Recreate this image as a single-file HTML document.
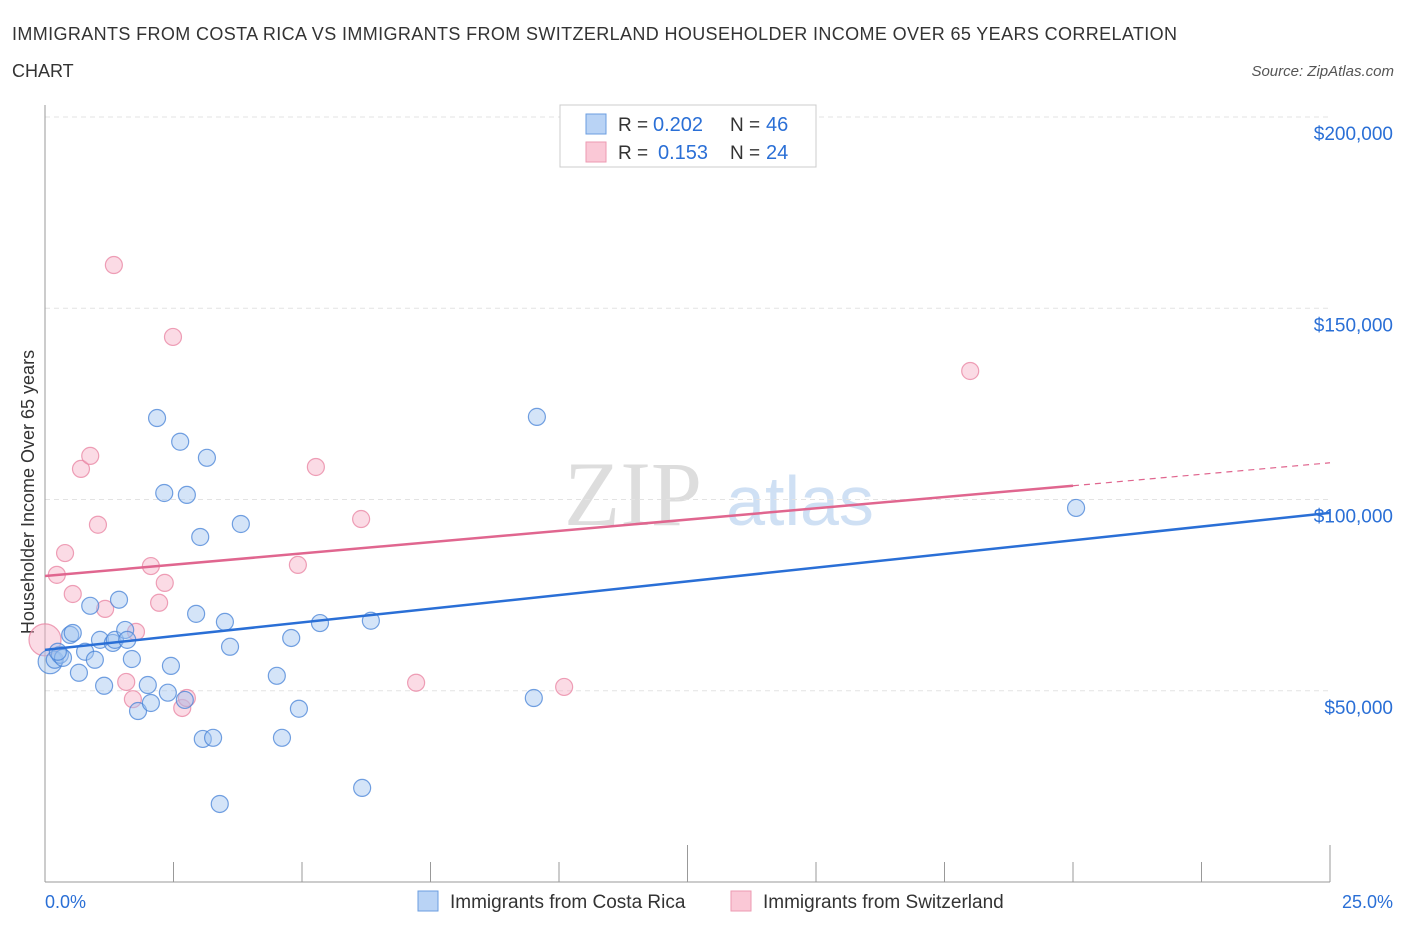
<!DOCTYPE html>
<html><head><meta charset="utf-8"><style>
body{margin:0;background:#fff;font-family:"Liberation Sans",sans-serif;}
svg text{font-family:"Liberation Sans",sans-serif;}
</style></head><body>
<svg id="c" width="1406" height="930">
<text x="12" y="40" font-size="18" fill="#333" textLength="1165">IMMIGRANTS FROM COSTA RICA VS IMMIGRANTS FROM SWITZERLAND HOUSEHOLDER INCOME OVER 65 YEARS CORRELATION</text>
<text x="12" y="77" font-size="18" fill="#333">CHART</text>
<text x="1394" y="76" font-size="15" fill="#555" font-style="italic" text-anchor="end">Source: ZipAtlas.com</text>
<text x="34" y="492" font-size="18" fill="#333" text-anchor="middle" transform="rotate(-90 34 492)">Householder Income Over 65 years</text>
<text x="633" y="525" font-size="92" fill="#ddd" text-anchor="middle" style="font-family:'Liberation Serif',serif">ZIP</text>
<text x="800" y="525" font-size="70" fill="#cfe0f4" text-anchor="middle">atlas</text>
<g id="grid"></g><g id="pts"></g><g id="lines"></g>
<rect x="560" y="105" width="256" height="62" fill="#fff" stroke="#ccc"/>
<rect x="586" y="114" width="20" height="20" fill="#b9d3f5" stroke="#6b9ee0"/>
<rect x="586" y="142" width="20" height="20" fill="#fac8d6" stroke="#ec9ab2"/>
<text x="618" y="131" font-size="19" fill="#333">R =</text>
<text x="653" y="131" font-size="20" fill="#2a6fd6">0.202</text>
<text x="730" y="131" font-size="19" fill="#333">N =</text>
<text x="766" y="131" font-size="20" fill="#2a6fd6">46</text>
<text x="618" y="159" font-size="19" fill="#333">R =</text>
<text x="658" y="159" font-size="20" fill="#2a6fd6">0.153</text>
<text x="730" y="159" font-size="19" fill="#333">N =</text>
<text x="766" y="159" font-size="20" fill="#2a6fd6">24</text>
<text x="45" y="908" font-size="18" fill="#2a6fd6">0.0%</text>
<text x="1393" y="908" font-size="18" fill="#2a6fd6" text-anchor="end">25.0%</text>
<rect x="418" y="891" width="20" height="20" fill="#b9d3f5" stroke="#6b9ee0"/>
<text x="450" y="908" font-size="19" fill="#333">Immigrants from Costa Rica</text>
<rect x="731" y="891" width="20" height="20" fill="#fac8d6" stroke="#ec9ab2"/>
<text x="763" y="908" font-size="19" fill="#333">Immigrants from Switzerland</text>
</svg>
<script>
const yTicks=[50000,100000,150000,200000];
const yTickLabels=["$50,000","$100,000","$150,000","$200,000"];
const blueX=[0.10,0.19,0.29,0.35,0.25,0.49,0.54,0.66,0.78,0.88,0.97,1.07,1.15,1.32,1.36,1.44,1.56,1.60,1.69,1.81,2.00,2.06,2.18,2.32,2.39,2.45,2.63,2.76,2.72,2.94,3.02,3.07,3.15,3.27,3.40,3.50,3.60,3.81,4.51,4.61,4.79,4.94,5.35,6.17,6.34,9.51,9.57,20.06];
const blueY=[57600,58100,59400,58600,60200,64600,65100,54700,60200,72200,58100,63300,51300,62500,63300,73800,65900,63300,58300,44700,51500,46800,121300,101700,49500,56500,115100,101200,47600,70100,90200,37400,110900,37700,20400,68000,61500,93600,53900,37700,63800,45300,67700,24600,68300,48100,121600,97800];
const pinkX=[0.0,0.23,0.39,0.54,0.70,0.88,1.03,1.17,1.34,1.58,1.71,1.77,2.06,2.22,2.33,2.49,2.67,2.76,4.92,5.27,6.15,7.22,10.10,18.00];
const pinkY=[63300,80300,86000,75300,108000,111400,93400,71400,161300,52300,47800,65400,82600,73000,78200,142500,45500,48100,82900,108500,94900,52100,51000,133600];
const blueTrend=[60700,96500];
const pinkTrend=[80000,103600,109600];
const pinkTrendX=[0,20,25];
const NS="http://www.w3.org/2000/svg";
function X(p){return 45+p/25*1285;}
function Y(v){return 882-v/200000*765;}
function mk(t,a,p){const e=document.createElementNS(NS,t);for(const k in a)e.setAttribute(k,a[k]);document.getElementById(p).appendChild(e);return e;}
yTicks.forEach((v,i)=>{
 const l=mk('line',{x1:45,x2:1330,y1:Y(v),y2:Y(v),stroke:'#e3e3e3','stroke-dasharray':'5,4'},'grid');
 
 
 const t=mk('text',{x:1393,y:Y(v)+23,'font-size':19,fill:'#2a6fd6','text-anchor':'end'},'grid');
 t.textContent=yTickLabels[i];
 
 
});
const ax=mk('line',{x1:45,x2:45,y1:105,y2:882,stroke:'#999'},'grid');


const bx=mk('line',{x1:45,x2:1330,y1:882,y2:882,stroke:'#999'},'grid');


for(let i=0;i<=10;i++){
 const big=(i==5||i==10);
 const tk=mk('line',{x1:X(i*2.5),x2:X(i*2.5),y1:big?845:862,y2:882,stroke:'#999'},'grid');
 
 
}
pinkX.forEach((x,i)=>{
 const c=mk('circle',{cx:X(x),cy:Y(pinkY[i]),r:i==0?16:8.5,fill:'rgba(246,176,198,0.45)',stroke:'rgba(232,130,160,0.75)','stroke-width':1.2},'pts');
 
 
});
blueX.forEach((x,i)=>{
 const c=mk('circle',{cx:X(x),cy:Y(blueY[i]),r:i==0?12:8.5,fill:'rgba(160,195,240,0.45)',stroke:'rgba(70,130,215,0.75)','stroke-width':1.2},'pts');
 
 
});
const bl=mk('line',{x1:X(0),y1:Y(blueTrend[0]),x2:X(25),y2:Y(blueTrend[1]),stroke:'#2a6fd6','stroke-width':2.5},'lines');


const pl=mk('line',{x1:X(pinkTrendX[0]),y1:Y(pinkTrend[0]),x2:X(pinkTrendX[1]),y2:Y(pinkTrend[1]),stroke:'#e0668f','stroke-width':2.5},'lines');


const pd=mk('line',{x1:X(pinkTrendX[1]),y1:Y(pinkTrend[1]),x2:X(pinkTrendX[2]),y2:Y(pinkTrend[2]),stroke:'#e0668f','stroke-width':1.2,'stroke-dasharray':'6,5'},'lines');


</script>
</body></html>
